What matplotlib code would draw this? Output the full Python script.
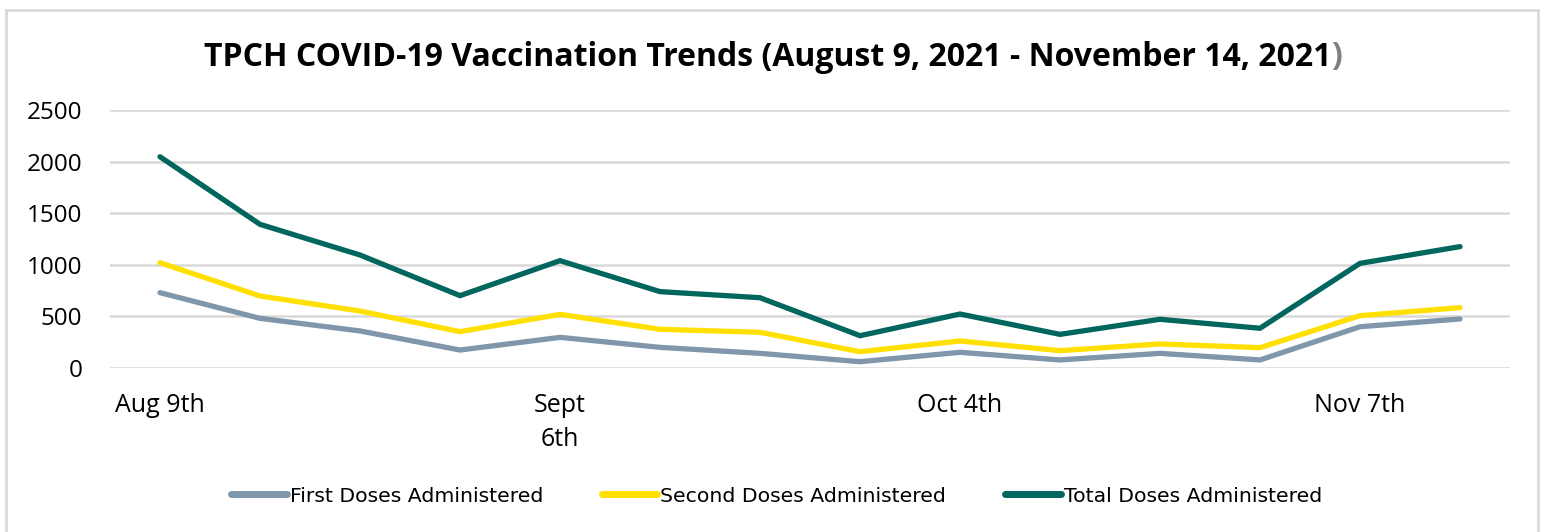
import matplotlib.pyplot as plt
from matplotlib.patches import Rectangle
import numpy as np

# weekly counts, Aug 9 .. Nov 8 (14 weeks)
weeks = ["Aug 9th", "Aug 16th", "Aug 23rd", "Aug 30th", "Sept\n6th", "Sept 13th",
         "Sept 20th", "Sept 27th", "Oct 4th", "Oct 11th", "Oct 18th", "Oct 25th",
         "Nov 7th", "Nov 14th"]
shown_labels = [0, 4, 8, 12]
first_doses = [730, 481, 359, 174, 297, 200, 142, 61, 152, 78, 142, 78, 400, 475]
second_doses = [1020, 698, 552, 352, 520, 375, 346, 158, 262, 168, 233, 197, 507, 585]
total_doses = [2047, 1392, 1095, 701, 1040, 740, 681, 313, 523, 326, 472, 385, 1014, 1176]
yticks = [0, 500, 1000, 1500, 2000, 2500]

series = [("First Doses Administered", first_doses, "#7f96ab"),
          ("Second Doses Administered", second_doses, "#ffe000"),
          ("Total Doses Administered", total_doses, "#00665e")]

fig = plt.figure(figsize=(15.44, 5.32), dpi=100)
fig.patches.append(Rectangle((6 / 1544, -0.1), 1532 / 1544, 1.1 - 10 / 532,
                             transform=fig.transFigure, fill=False,
                             edgecolor="#d9d9d9", linewidth=2))
ax = fig.add_axes([110 / 1544, 1 - 368 / 532, 1400 / 1544, 258 / 532])

x = np.arange(len(weeks))
for name, vals, col in series:
    ax.plot(x, vals, color=col, linewidth=3.8, solid_capstyle="round",
            solid_joinstyle="miter", label=name, zorder=3)

ax.set_xlim(-0.5, len(weeks) - 0.5)
ax.set_ylim(0, 2500)
ax.set_yticks(yticks)
ax.set_yticklabels([str(v) for v in yticks], fontsize=17.5, family="Open Sans")
ax.set_xticks([x[i] for i in shown_labels])
ax.set_xticklabels([weeks[i] for i in shown_labels], fontsize=18, family="Open Sans",
                   linespacing=1.45, va="top")
ax.tick_params(axis="both", length=0)
ax.tick_params(axis="y", pad=20)
ax.tick_params(axis="x", pad=18)
ax.grid(axis="y", color="#d9d9d9", linewidth=1.8, zorder=0)
for s in ax.spines.values():
    s.set_visible(False)

title = "TPCH COVID-19 Vaccination Trends (August 9, 2021 - November 14, 2021"
t = fig.text(0.497, 1 - 57 / 532, title, ha="center", va="center",
             fontsize=23, fontweight="bold", family="Open Sans")
fig.canvas.draw()
bb = t.get_window_extent(fig.canvas.get_renderer())
fig.text(bb.x1 / fig.bbox.width, 1 - 57 / 532, ")", ha="left", va="center",
         fontsize=23, fontweight="bold", family="Open Sans", color="#7f7f7f")

leg = fig.legend(loc="center", bbox_to_anchor=(0.503, 1 - 496 / 532), ncol=3,
                 frameon=False, handlelength=2.7, handletextpad=0.15,
                 columnspacing=2.9, prop={"family": "DejaVu Sans", "size": 14.7})
for h in leg.get_lines():
    h.set_linewidth(5)

fig.savefig("out.png", dpi=100)
